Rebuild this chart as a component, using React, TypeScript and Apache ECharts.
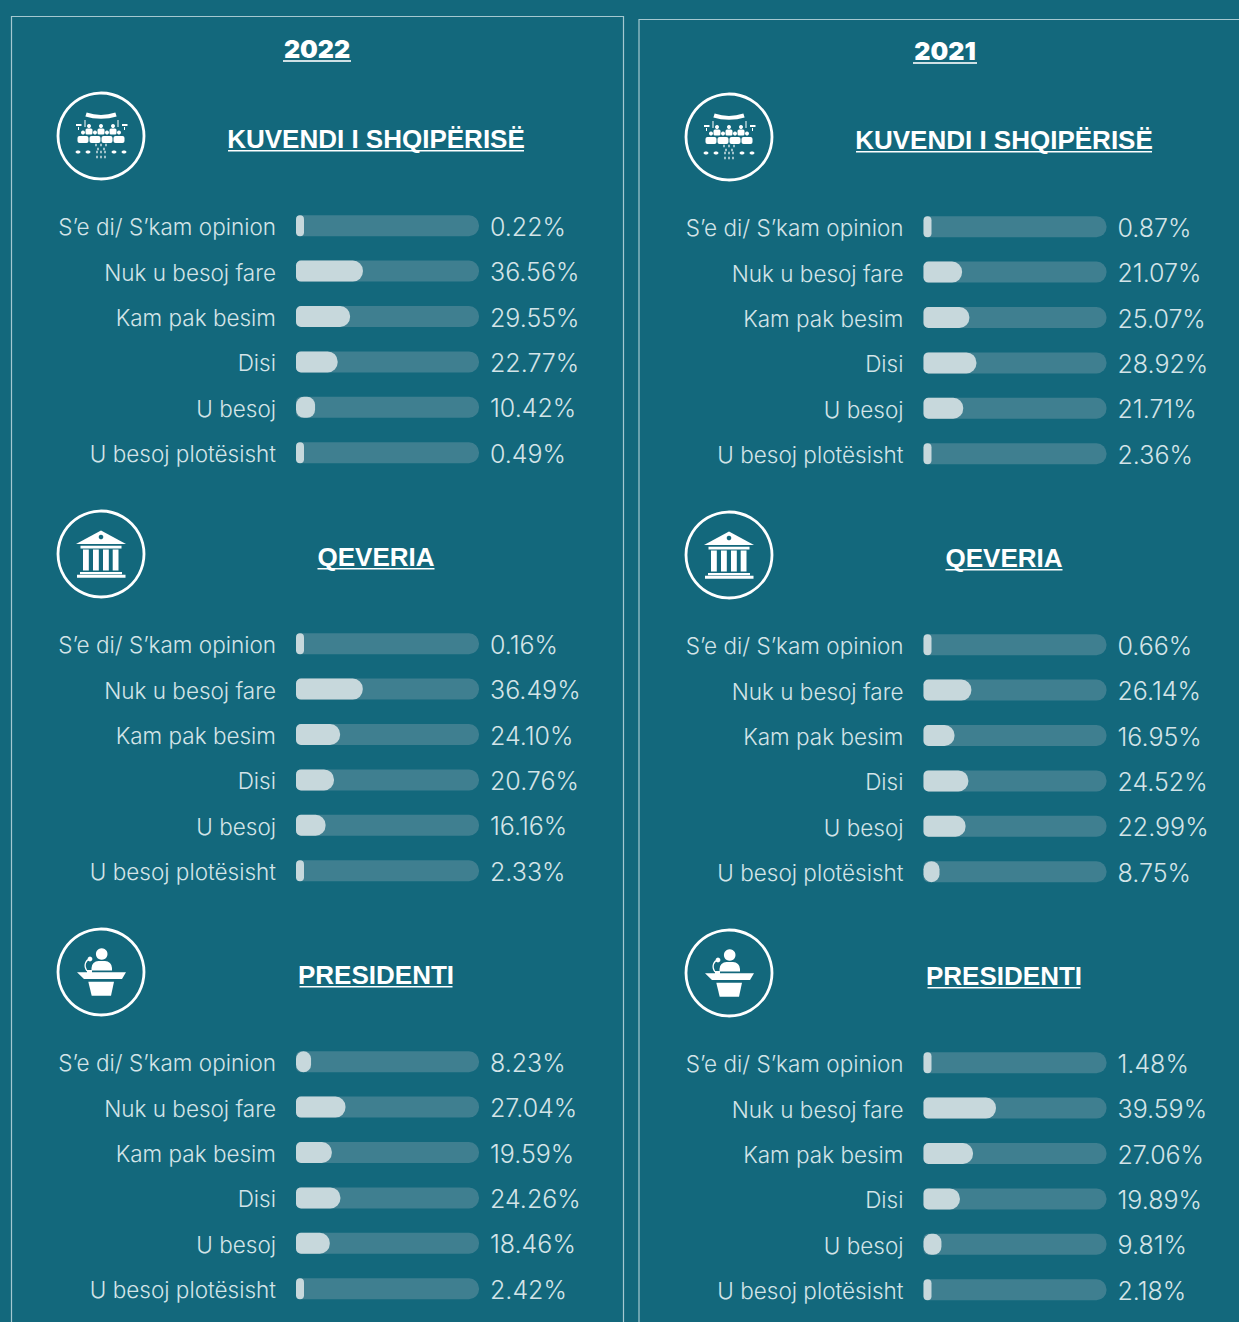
import React, { useEffect, useRef } from "react";
import * as echarts from "echarts";

const categories = ["S’e di/ S’kam opinion", "Nuk u besoj fare", "Kam pak besim", "Disi", "U besoj", "U besoj plotësisht"];
const years = ["2022", "2021"];
const institutions = ["KUVENDI I SHQIPËRISË", "QEVERIA", "PRESIDENTI"];
const kuvendi2022 = [0.22, 36.56, 29.55, 22.77, 10.42, 0.49];
const qeveria2022 = [0.16, 36.49, 24.1, 20.76, 16.16, 2.33];
const presidenti2022 = [8.23, 27.04, 19.59, 24.26, 18.46, 2.42];
const kuvendi2021 = [0.87, 21.07, 25.07, 28.92, 21.71, 2.36];
const qeveria2021 = [0.66, 26.14, 16.95, 24.52, 22.99, 8.75];
const presidenti2021 = [1.48, 39.59, 27.06, 19.89, 9.81, 2.18];
const values = [
  [kuvendi2022, qeveria2022, presidenti2022],
  [kuvendi2021, qeveria2021, presidenti2021],
];

const BG = "#13687c";
const TRACK = "#3f7f90";
const FILL = "#c7d8dc";
const TEXT = "#d3e4e8";
const FRAME = "#a5c8d0";
const WHITE = "#ffffff";
const LABEL_FONT = "Inter";
const TITLE_WIDTHS = [296, 117, 153];

const colX = [0, 628];
const colY = [0, 1];
const sectionStep = 418;

const w = (extra: any = {}) => ({ fill: WHITE, ...extra });

function assemblyIcon() {
  const c: any[] = [];
  c.push({ type: "bezierCurve", shape: { x1: -15, y1: -21.5, x2: 15, y2: -21.5, cpx1: -6, cpy1: -18.5, cpx2: 6, cpy2: -18.5 }, style: { stroke: WHITE, lineWidth: 4, fill: "none" } });
  c.push({ type: "rect", shape: { x: -16.5, y: -16, width: 1, height: 7 }, style: w() });
  c.push({ type: "rect", shape: { x: 16.5, y: -16, width: 1, height: 7 }, style: w() });
  c.push({ type: "rect", shape: { x: -25, y: -12, width: 5.5, height: 2 }, style: w() });
  c.push({ type: "rect", shape: { x: 21, y: -12, width: 5.5, height: 2 }, style: w() });
  c.push({ type: "rect", shape: { x: -23, y: -9, width: 1, height: 3 }, style: w() });
  c.push({ type: "rect", shape: { x: 23, y: -9, width: 1, height: 3 }, style: w() });
  [-12, 0, 12].forEach((x) => {
    c.push({ type: "circle", shape: { cx: x, cy: -10, r: 2 }, style: w() });
    c.push({ type: "rect", shape: { x: x - 3.5, y: -7.5, width: 7, height: 6, r: 1.5 }, style: w() });
  });
  [-18, -6, 6, 18].forEach((x) => {
    c.push({ type: "circle", shape: { cx: x, cy: -3.5, r: 2 }, style: w() });
    c.push({ type: "rect", shape: { x: x - 5.5, y: 0, width: 11, height: 7, r: 2 }, style: w() });
  });
  [-23, -13, 13, 23].forEach((x) => {
    c.push({ type: "ellipse", shape: { cx: x, cy: 16, rx: 2.5, ry: 1.5 }, style: w() });
  });
  [[-5, 9], [0, 9], [5, 9], [-3, 13], [3, 13], [-4, 21], [0, 21], [4, 21], [-4, 16], [4, 16], [0, 16]].forEach(([x, y]) => {
    c.push({ type: "rect", shape: { x: x - 0.6, y: y - 1.2, width: 1.2, height: 2.4 }, style: w() });
  });
  return c;
}

function bankIcon() {
  const c: any[] = [];
  c.push({ type: "polygon", shape: { points: [[0, -23.5], [25, -10], [-25, -10]] }, style: w() });
  c.push({ type: "circle", shape: { cx: 0, cy: -17, r: 2.3 }, style: { fill: BG } });
  c.push({ type: "rect", shape: { x: -20.5, y: -8.3, width: 41, height: 2.8 }, style: w() });
  [-18, -8, 2, 11.7].forEach((x) => {
    c.push({ type: "rect", shape: { x, y: -4.5, width: 5.8, height: 21 }, style: w() });
  });
  c.push({ type: "rect", shape: { x: -21, y: 18, width: 42, height: 2.2 }, style: w() });
  c.push({ type: "rect", shape: { x: -24, y: 20.8, width: 48.5, height: 3 }, style: w() });
  return c;
}

function podiumIcon() {
  const c: any[] = [];
  c.push({ type: "circle", shape: { cx: 0.7, cy: -18, r: 5.8 }, style: w() });
  c.push({ type: "rect", shape: { x: -9.5, y: -11, width: 20.5, height: 9.5, r: [7, 7, 0, 0] }, style: w() });
  c.push({ type: "polygon", shape: { points: [[-24, 0.3], [-14, 0.3], [-14, -2], [-9, -2], [-9, 0.3], [25, 0.3], [21, 7], [-17, 7]] }, style: w() });
  c.push({ type: "polygon", shape: { points: [[-12.7, 9.7], [13, 9.7], [10, 23.7], [-9.3, 23.7]] }, style: w() });
  c.push({ type: "circle", shape: { cx: -11, cy: -13, r: 2.4 }, style: w() });
  c.push({ type: "bezierCurve", shape: { x1: -11, y1: -13, x2: -14, y2: -1, cpx1: -15, cpy1: -12, cpx2: -18, cpy2: -7 }, style: { stroke: WHITE, lineWidth: 1.3, fill: "none" } });
  return c;
}

const iconBuilders = [assemblyIcon, bankIcon, podiumIcon];

function buildOption() {
  const grid: any[] = [];
  const xAxis: any[] = [];
  const yAxis: any[] = [];
  const series: any[] = [];
  const graphic: any[] = [
    { type: "rect", silent: true, shape: { x: 11.5, y: 16.5, width: 612, height: 1400 }, style: { fill: "none", stroke: FRAME, lineWidth: 1.2 } },
    { type: "rect", silent: true, shape: { x: 639, y: 19.5, width: 700, height: 1400 }, style: { fill: "none", stroke: FRAME, lineWidth: 1.2 } },
  ];
  const yearCx = [317, 945];
  const yearY = [49, 51];
  years.forEach((year, yi) => {
    graphic.push({ type: "text", x: yearCx[yi], y: yearY[yi], style: { text: year, fill: WHITE, font: "900 25px Inter", align: "center", verticalAlign: "middle" } });
    graphic.push({ type: "rect", shape: { x: yearCx[yi] - (yi ? 32 : 34), y: yearY[yi] + 11, width: yi ? 64 : 68, height: 2 }, style: { fill: "#cfe0e4" } });
    institutions.forEach((name, si) => {
      const dx = colX[yi];
      const dy = colY[yi] + si * sectionStep;
      graphic.push({ type: "group", x: 101 + dx, y: 136 + dy, children: [
        { type: "circle", shape: { cx: 0, cy: 0, r: 43 }, style: { fill: "none", stroke: WHITE, lineWidth: 2.8 } },
        ...iconBuilders[si](),
      ] });
      graphic.push({ type: "text", x: 376 + dx, y: 139 + dy, style: { text: name, fill: WHITE, font: "700 26px 'Liberation Sans'", align: "center", verticalAlign: "middle" } });
      graphic.push({ type: "rect", shape: { x: 376 + dx - TITLE_WIDTHS[si] / 2, y: 150 + dy, width: TITLE_WIDTHS[si], height: 1.6 }, style: { fill: WHITE } });

      const left = 296 + (yi ? 627.5 : 0);
      const axisCommon = { type: "category", inverse: true, axisLine: { show: false }, axisTick: { show: false }, splitLine: { show: false } };

      // grid holding the bars
      const barGrid = grid.length;
      grid.push({ left, top: 203 + dy, width: 183, height: 272.4 });
      xAxis.push({ type: "value", gridIndex: barGrid, min: 0, max: 100, show: false });
      const barAxis = yAxis.length;
      yAxis.push({ ...axisCommon, gridIndex: barGrid, data: categories, show: false });
      series.push({
        type: "bar", xAxisIndex: barGrid, yAxisIndex: barAxis, barWidth: 21, barMinHeight: 8, silent: true,
        data: values[yi][si].map((v) => ({ value: v, itemStyle: { color: FILL, borderRadius: v < 12 ? 8 : [5, 10, 10, 5] } })),
        showBackground: true, backgroundStyle: { color: TRACK, borderRadius: [5, 10, 10, 5] },
      });

      // grid holding the row and value labels, which sit 1px below the bars' centres
      const labelGrid = grid.length;
      grid.push({ left, top: 204 + dy, width: 183, height: 272.4 });
      xAxis.push({ type: "value", gridIndex: labelGrid, min: 0, max: 100, show: false });
      yAxis.push({ ...axisCommon, gridIndex: labelGrid, position: "left", data: categories,
        axisLabel: { interval: 0, margin: 20, color: TEXT, fontFamily: LABEL_FONT, fontWeight: 300, fontSize: 22.5 } });
      yAxis.push({ ...axisCommon, gridIndex: labelGrid, position: "right", data: values[yi][si].map((v) => v.toFixed(2) + "%"),
        axisLabel: { interval: 0, margin: 11, color: TEXT, fontFamily: LABEL_FONT, fontWeight: 300, fontSize: 25 } });
    });
  });
  return { animation: false, backgroundColor: BG, tooltip: { show: false }, grid, xAxis, yAxis, series, graphic };
}

export default function App() {
  const ref = useRef<HTMLDivElement>(null);
  useEffect(() => {
    const chart = echarts.init(ref.current!, null, { renderer: "svg" });
    chart.setOption(buildOption() as any);
    return () => chart.dispose();
  }, []);
  return <div ref={ref} style={{ position: "absolute", left: 0, top: 0, width: 1239, height: 1322, overflow: "hidden" }} />;
}
